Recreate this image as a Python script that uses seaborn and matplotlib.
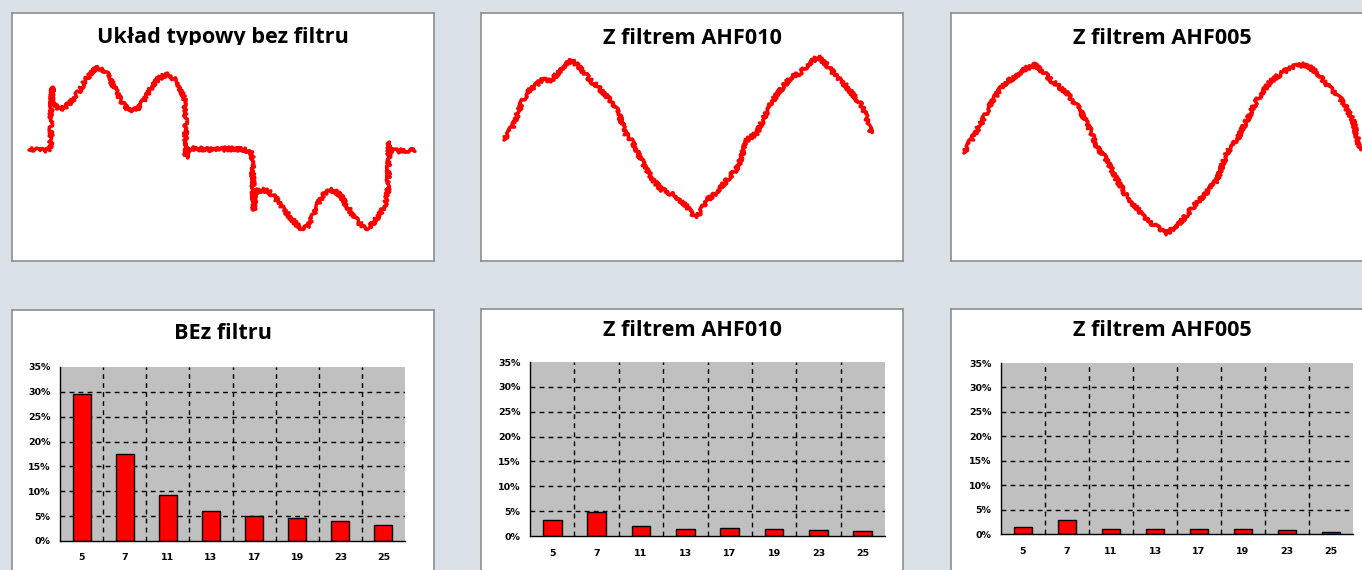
import matplotlib
matplotlib.use("Agg")
import matplotlib.pyplot as plt
import seaborn as sns
import pandas as pd
from matplotlib.patches import Rectangle

# harmonic orders and their share (%)
harmonics = ["5", "7", "11", "13", "17", "19", "23", "25"]
bez_filtru = [29.5, 17.6, 9.3, 6.0, 5.0, 4.6, 4.0, 3.2]
ahf010 = [3.2, 4.9, 2.1, 1.5, 1.7, 1.5, 1.2, 1.1]
ahf005 = [1.4, 2.9, 1.1, 1.1, 1.1, 1.1, 0.8, 0.4]

# current traces (sample no., raw amplitude)
t_bez = [17, 23, 28, 33, 38, 39, 39, 40, 41, 43, 48, 53, 58, 63, 68, 73, 78, 83, 86, 90,
         95, 100, 105, 110, 115, 120, 125, 130, 136, 141, 146, 151, 156, 160, 164, 168,
         171, 173, 174, 174, 176, 183, 193, 203, 213, 223, 233, 238, 240, 241, 242, 243,
         246, 250, 256, 263, 270, 278, 285, 290, 295, 301, 308, 313, 318, 323, 329, 336,
         343, 350, 356, 362, 368, 374, 376, 377, 377, 379, 388, 396, 403]
i_bez = [-13, -12, -14, -13, -13, -3, 22, 50, 37, 31, 28, 30, 34, 40, 47, 56, 63, 68, 69, 68,
         63, 54, 44, 34, 29, 27, 28, 34, 44, 52, 58, 61, 62, 60, 56, 49,
         41, 37, -13, -21, -11, -12, -12, -13, -12, -12, -13, -14, -18, -46, -73, -53,
         -55, -53, -54, -60, -70, -80, -88, -92, -90, -79, -63, -56, -53, -54, -59, -71,
         -81, -89, -91, -85, -77, -65, -53, -13, -5, -14, -14, -13, -14]

t_ahf010 = [23, 32, 42, 49, 61, 71, 81, 91, 99, 109, 117, 132, 139, 144, 152, 162, 172, 181,
            189, 199, 209, 214, 219, 226, 236, 246, 257, 266, 276, 282, 292, 302, 309, 319,
            329, 337, 346, 356, 366, 376, 382, 387, 390]
i_ahf010 = [-3, 11, 37, 47, 57, 57, 69, 77, 69, 57, 50, 34, 20, 4, -6, -26, -43, -53,
            -56, -63, -73, -80, -76, -63, -55, -43, -30, -3, 4, 17, 37, 50, 59, 64,
            74, 80, 72, 60, 50, 37, 30, 14, 4]

t_ahf005 = [13, 22, 32, 42, 52, 66, 76, 84, 92, 102, 116, 129, 139, 146, 156, 166, 176, 189,
            202, 216, 229, 242, 256, 266, 276, 286, 296, 306, 319, 332, 346, 356, 366, 379,
            392, 402, 409]
i_ahf005 = [-16, 0, 17, 37, 52, 62, 69, 72, 65, 55, 44, 27, 7, -10, -23, -43, -60, -75,
            -88, -96, -86, -70, -55, -43, -16, -3, 17, 37, 55, 65, 72, 72, 64, 49,
            35, 17, -13]

top_titles = ["Układ typowy bez filtru", "Z filtrem AHF010", "Z filtrem AHF005"]
bottom_titles = ["BEz filtru", "Z filtrem AHF010", "Z filtrem AHF005"]

W, H = 1362, 570
BG = "#dae2e8"
EDGE = "#8e8e8e"
RED = "#ff0000"

sns.set_style("white")
plt.rcParams["font.family"] = ["Open Sans", "DejaVu Sans"]
plt.rcParams["text.color"] = "black"
plt.rcParams["xtick.color"] = "black"
plt.rcParams["ytick.color"] = "black"

fig = plt.figure(figsize=(W / 100, H / 100), dpi=100, facecolor=BG)


def box(l, t, r, b):
    return [l / W, 1 - b / H, (r - l) / W, (b - t) / H]


def panel(rect):
    ax = fig.add_axes(box(*rect))
    ax.set_facecolor("white")
    ax.set_xticks([])
    ax.set_yticks([])
    for s in ax.spines.values():
        s.set_visible(True)
        s.set_color(EDGE)
        s.set_linewidth(1.2)
    return ax


# ---- top row: waveforms ----
top_boxes = [(12, 13, 434, 261), (481, 13, 903, 261), (951, 13, 1373, 261)]
waves = [(t_bez, i_bez), (t_ahf010, i_ahf010), (t_ahf005, i_ahf005)]

for k, (rect, (tt, ii), title) in enumerate(zip(top_boxes, waves, top_titles)):
    ax = panel(rect)
    hgt = rect[3] - rect[1]
    ax.set_xlim(0, rect[2] - rect[0])
    ax.set_ylim(-124, 124)
    ax.text(0.5, (rect[3] - 43.5) / hgt, title, transform=ax.transAxes, ha="center",
            va="baseline", fontsize=15.6, fontweight="bold", color="black", zorder=3)
    if k == 0:
        # scope picture covers the bottom of the title
        ax.add_patch(Rectangle((0.03, 0.03), 0.94, (rect[3] - 44.5) / hgt - 0.03,
                               transform=ax.transAxes, facecolor="white",
                               edgecolor="none", zorder=4))
    sns.lineplot(x=tt, y=ii, sort=False, estimator=None, color=RED, linewidth=2.5,
                 ax=ax, zorder=5)
    for ln in ax.lines:
        # scope noise look
        ln.set_sketch_params(scale=2.0, length=1.0, randomness=2)

# ---- bottom row: harmonic bar charts ----
bottom_boxes = [(12, 310, 434, 600), (481, 309, 903, 600), (951, 309, 1373, 600)]
bar_boxes = [(60, 367, 405, 541), (530, 362, 885, 536), (1001, 363, 1353, 534)]
title_base = [339, 336.5, 336.5]
series = [bez_filtru, ahf010, ahf005]

tick_font = {"family": "DejaVu Sans", "weight": "bold", "size": 6.8}

for rect, brect, ty, vals, title in zip(bottom_boxes, bar_boxes, title_base, series, bottom_titles):
    pax = panel(rect)
    pax.text(0.5, (rect[3] - ty) / (rect[3] - rect[1]), title, transform=pax.transAxes,
             ha="center", va="baseline", fontsize=15.6, fontweight="bold", color="black")

    ax = fig.add_axes(box(*brect))
    df = pd.DataFrame({"harm": harmonics, "val": vals})
    sns.barplot(data=df, x="harm", y="val", color=RED, edgecolor="black", linewidth=1,
                width=0.42, saturation=1, ax=ax)
    ax.set_facecolor("#c0c0c0")
    ax.set_xlim(-0.5, len(harmonics) - 0.5)
    ax.set_ylim(0, 35)
    ax.set_xlabel("")
    ax.set_ylabel("")
    ax.set_yticks(range(0, 36, 5))
    ax.set_yticklabels([f"{v}%" for v in range(0, 36, 5)], fontdict=tick_font)
    ax.set_xticks(range(len(harmonics)))
    ax.set_xticklabels(harmonics, fontdict=tick_font)
    ax.set_xticks([i + 0.5 for i in range(len(harmonics))], minor=True)
    ax.tick_params(axis="x", which="major", length=0, pad=9)
    ax.tick_params(axis="x", which="minor", length=6, direction="inout", width=1, color="black")
    ax.tick_params(axis="y", length=6, direction="inout", width=1, color="black", pad=4)
    ax.grid(False)
    for v in range(5, 35, 5):
        ax.axhline(v, color="black", linestyle=(0, (3.5, 3)), linewidth=1, zorder=0.5)
    for i in range(len(harmonics) - 1):
        ax.axvline(i + 0.5, color="black", linestyle=(0, (3.5, 3)), linewidth=1, zorder=0.5)
    ax.set_axisbelow(True)
    for b in ax.patches:
        b.set_zorder(2)
    for s in ["top", "right"]:
        ax.spines[s].set_visible(False)
    for s in ["left", "bottom"]:
        ax.spines[s].set_visible(True)
        ax.spines[s].set_color("black")
        ax.spines[s].set_linewidth(1)

fig.savefig("out.png", dpi=100, facecolor=BG)
